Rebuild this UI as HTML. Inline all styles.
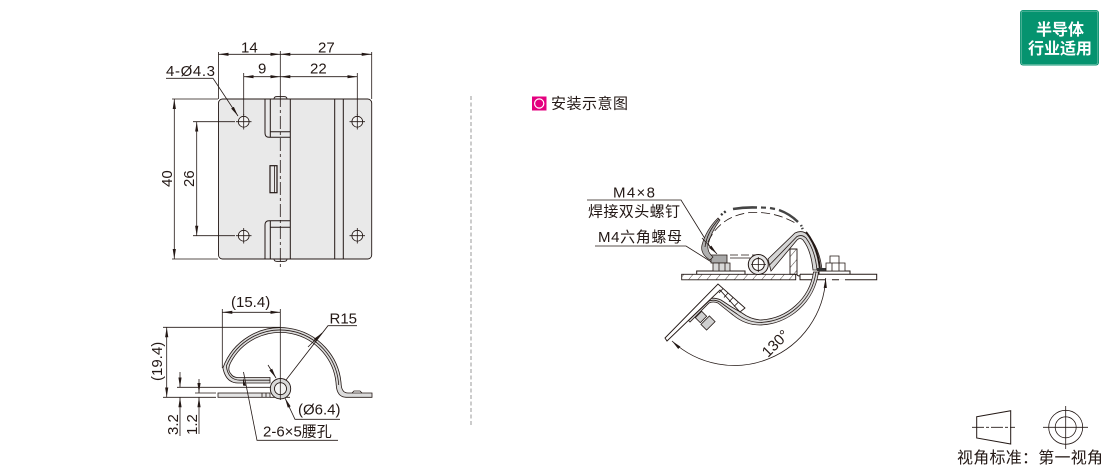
<!DOCTYPE html>
<html><head><meta charset="utf-8"><style>
html,body{margin:0;padding:0;background:#fff;width:1110px;height:473px;overflow:hidden}
svg{display:block}
text{font-family:"Liberation Sans","Noto Sans CJK SC",sans-serif;fill:#231815;font-size:15px}
.l{stroke:#231815;stroke-width:.8;fill:none}
.t{stroke:#231815;stroke-width:1;fill:none}
</style></head><body>
<svg width="1110" height="473" viewBox="0 0 1110 473" xmlns="http://www.w3.org/2000/svg">
<defs>
<marker id="a" markerUnits="userSpaceOnUse" markerWidth="11" markerHeight="6" refX="10" refY="2.5" orient="auto-start-reverse"><path d="M0 .9L10 2.5L0 4.1z" fill="#231815"/></marker>
<pattern id="h" patternUnits="userSpaceOnUse" width="7" height="7" patternTransform="rotate(40)"><line x1="0" y1="0" x2="0" y2="7" stroke="#231815" stroke-width=".8"/></pattern>
</defs>

<!-- top view -->
<rect x="218.5" y="99" width="153.2" height="160" rx="4" fill="#e9e9e9" stroke="#231815" stroke-width=".9"/>
<path class="t" d="M265 99V133Q265 137.3 269 137.3H290.3M265 259V225Q265 220.7 269 220.7H290.3M270.3 99V137.3M270.3 220.7V259M290.3 99V259M334.7 99V259M343.3 99V259M270.3 131.7H290.3M270.3 227.3H290.3"/>
<path d="M274 99Q274 96.6 277 96.6H284Q287 96.6 287 99zM274 259Q274 261.4 277 261.4H284Q287 261.4 287 259z" fill="#e9e9e9" stroke="#231815" stroke-width=".9"/>
<rect x="270" y="165.7" width="7" height="27" fill="#e9e9e9" stroke="#231815" stroke-width="1.2"/>
<path class="l" d="M274.5 166V192.5"/>
<path class="l" d="M280.3 51V94"/>
<path class="l" stroke-dasharray="13 3 3 3" d="M280.3 94V268"/>
<g fill="#f4f4f4" stroke="#231815" stroke-width=".8">
<circle cx="243.7" cy="121.7" r="5.4"/><circle cx="357.3" cy="121.7" r="5.4"/><circle cx="243.7" cy="235.7" r="5.4"/><circle cx="357.3" cy="235.7" r="5.4"/>
</g>
<path class="l" d="M236 121.7H251.5M243.7 114V129.5M349.5 121.7H365M357.3 114V129.5M236 235.7H251.5M243.7 228V243.5M349.5 235.7H365M357.3 228V243.5"/>
<!-- top dims -->
<path class="l" d="M218.5 52V99M371.7 52V99M243.7 73V115M357.3 73V115M172 99H218M172 259H218M193 121.7H235M193 235.7H235"/>
<path class="l" marker-start="url(#a)" marker-end="url(#a)" d="M218.5 54.3H280.3"/>
<path class="l" marker-start="url(#a)" marker-end="url(#a)" d="M280.3 54.3H371.7"/>
<path class="l" marker-start="url(#a)" marker-end="url(#a)" d="M243.7 76.7H280.3"/>
<path class="l" marker-start="url(#a)" marker-end="url(#a)" d="M280.3 76.7H357.3"/>
<path class="l" marker-start="url(#a)" marker-end="url(#a)" d="M174.3 99V259"/>
<path class="l" marker-start="url(#a)" marker-end="url(#a)" d="M196.7 121.7V235.7"/>
<path class="l" marker-end="url(#a)" d="M166 78.3H213L238 116"/>
<text x="241" y="52.5">14</text><text x="318" y="52.5">27</text><text x="258" y="73.5">9</text><text x="310" y="73.5">22</text>
<text x="166" y="76" textLength="49">4-Ø4.3</text>
<text transform="translate(172,187) rotate(-90)">40</text>
<text transform="translate(194,187) rotate(-90)">26</text>

<!-- bottom view -->
<path d="M222.9 368A61 61 0 0 1 341.2 385Q342 393 348 393H372V397.3H346Q337 397 336.2 385A56 56 0 0 0 230.4 363Q227 370 231 374Q233 377.5 238 377.5H270V383H238Q226 383 222.9 368z" fill="#dcdcdc" stroke="#231815" stroke-width=".8"/>
<path class="l" d="M226.3 366A58.5 58.5 0 0 1 338.7 385M226.3 366Q228 380 240 380.2H270"/>
<path class="l" d="M352 393L354 391H360L362 393"/>
<rect x="218" y="393" width="52" height="4.3" fill="#e4e4e4" stroke="#231815" stroke-width=".8"/>
<path class="l" d="M262 393V397.3M266 393V397.3M270 397.3H290"/>
<circle cx="280.5" cy="388.7" r="10.2" fill="#d9d9d9" stroke="#231815" stroke-width=".9"/>
<circle cx="280.5" cy="388.7" r="6" fill="#f4f4f4" stroke="#231815" stroke-width=".9"/>
<path class="l" d="M280.3 309V400"/>
<path class="l" d="M222.3 309V368M163 327.3H280M163 397.3H216M177 387.3H270M195 393H216"/>
<path class="l" marker-start="url(#a)" marker-end="url(#a)" d="M222.3 312.3H280.3"/>
<path class="l" marker-start="url(#a)" marker-end="url(#a)" d="M166.7 327.3V397.3"/>
<path class="l" marker-end="url(#a)" d="M180 372V387.3"/><path class="l" marker-start="url(#a)" d="M180 397.3V436"/>
<path class="l" marker-end="url(#a)" d="M199 379V393"/><path class="l" marker-start="url(#a)" d="M199 397.3V434"/>
<path class="l" d="M357 325.7H328L286 380"/>
<path class="l" marker-end="url(#a)" d="M308 347L322 333"/>
<path class="l" marker-end="url(#a)" d="M268 365L276 378"/>
<path class="l" marker-end="url(#a)" d="M340 419.3H295L285 398"/>
<path class="l" d="M338 440.3H257L243.5 372"/>
<path d="M243 378l3 8-3-.5z" fill="#231815"/>
<text x="231" y="307">(15.4)</text><text x="329.5" y="323.5">R15</text><text x="298" y="414.5">(Ø6.4)</text>
<text x="263" y="436.5">2-6×5腰孔</text>
<text transform="translate(162,381) rotate(-90)">(19.4)</text>
<text transform="translate(178,435) rotate(-90)">3.2</text>
<text transform="translate(197,435) rotate(-90)">1.2</text>

<!-- divider -->
<path d="M471 96V425" stroke="#9a9a9a" stroke-width="1" stroke-dasharray="4 2.5" fill="none"/>

<!-- header -->
<rect x="532" y="96.5" width="14.5" height="14" fill="#e4007f"/>
<circle cx="539.2" cy="103.5" r="4.6" fill="none" stroke="#fff" stroke-width="1.2"/>
<text x="551" y="108.5" textLength="77">安装示意图</text>

<!-- right diagram labels -->
<text x="613" y="197.5" textLength="42">M4×8</text>
<text x="588" y="216.5" textLength="92">焊接双头螺钉</text>
<text x="598" y="242" textLength="84">M4六角螺母</text>
<path class="l" d="M587 200H681L712 250"/>
<path class="l" d="M595 246H686L713 263"/>

<!-- plates -->
<rect x="681.7" y="274.3" width="114" height="5.5" fill="url(#h)" stroke="#231815" stroke-width=".9"/>
<path class="t" d="M800 274.3H876.7V279.8H800V274.3"/>
<path class="t" d="M696.7 274.3V271H745V274.3M819 274.3V271H850V274.3"/>
<!-- bracket -->
<rect x="790" y="249" width="7" height="25.3" fill="url(#h)" stroke="#231815" stroke-width=".9"/>
<path class="t" d="M797 274.3Q797 276 800 276"/>
<path class="l" d="M785 249H797"/>
<!-- upper arm -->
<path d="M768 259L795 233Q803 229 809 236Q820 250 822 270H813Q811 250 803 240Q800 237 797 240L771 271z" fill="#d6d6d6" stroke="#231815" stroke-width=".8"/>
<path d="M806 232Q818 247 820 270" fill="none" stroke="#231815" stroke-width="2"/>
<path class="l" d="M769.5 265L797 236.5Q802 234 806 238Q815 250 817 270"/>
<rect x="817" y="268" width="15" height="3" fill="#333"/>
<!-- pin -->
<path class="l" d="M730 258H750"/>
<path class="l" stroke-dasharray="8 3" d="M730 255H760"/>
<circle cx="758.3" cy="264.5" r="10" fill="#e6e6e6" stroke="#231815" stroke-width="1"/>
<circle cx="758.3" cy="264.5" r="6" fill="#fff" stroke="#231815" stroke-width="1"/>
<path class="l" d="M751 264.5H766M758.3 257V272"/>
<!-- lower arm arc -->
<path d="M818.5 272A61 61 0 0 1 760 325Q745 325 733 315Q724 308 718 303Q713 301 709 303L690 322L687 319L708 299Q714 297 721 300Q731 307 742 313Q750 319 760 320A56 56 0 0 0 813.5 272z" fill="#dcdcdc" stroke="#231815" stroke-width=".8"/>
<path class="l" d="M816 272A58.5 58.5 0 0 1 760 322.5Q747 322 737 314Q728 308 720 302Q714 299 709 301L689 320"/>
<!-- lower plate -->
<path d="M665 338L718 284L745 308L740 312L720 290L667 341z" fill="#fff" stroke="#231815" stroke-width=".9"/>
<path class="l" d="M723 288.5L719 293M728 293L724 297.5M733 297.5L729 302M738 302.5L734 306.5"/>
<g fill="#d0d0d0" stroke="#231815" stroke-width=".8"><rect x="-6" y="-4" width="12" height="8" transform="translate(708,323) rotate(-45)"/><rect x="-4.5" y="-3.5" width="9" height="7" transform="translate(701,317) rotate(-45)"/></g>
<!-- left bolt cluster -->
<path d="M711 255H727V263H711z" fill="#a8a8a8" stroke="#231815" stroke-width=".8"/>
<path d="M713 263H730V271H713z" fill="#d8d8d8" stroke="#231815" stroke-width=".8"/>
<path class="l" d="M719 263V271M725 263V271"/>
<!-- right bolt -->
<path d="M830 256H839V263H830zM826 263H845V271H826z" fill="#fff" stroke="#231815" stroke-width=".8"/>
<path class="l" d="M832 263V271M839 263V271"/>
<path d="M826 279.8H852" stroke="#fff" stroke-width="1.4" stroke-dasharray="6 7" fill="none"/>
<!-- folded arm -->
<path d="M710 260Q700 254 702 245Q706 230 718 218L720 220Q711 232 708 245Q707 252 713 257z" fill="#b0b0b0" stroke="#231815" stroke-width=".7"/>
<path class="l" d="M705 247Q707 232 719 219"/>
<path d="M721 215L726 211" fill="none" stroke="#333" stroke-width="2.4" stroke-dasharray="2 2"/>
<path d="M733 209Q745 207 757 207.5" fill="none" stroke="#444" stroke-width="2.6"/>
<path d="M761 207.5L766 207.7M770 208L775 209" fill="none" stroke="#444" stroke-width="2.2"/>
<path d="M779 210Q790 214 798 222" fill="none" stroke="#444" stroke-width="2.4"/>
<path d="M801 225L803 230" fill="none" stroke="#444" stroke-width="2.4" stroke-dasharray="1.5 1.5"/>
<path class="l" stroke-dasharray="9 4" d="M708 242Q720 216 750 212.5Q775 211 797 224"/>
<path class="l" marker-end="url(#a)" d="M702 238L717 254"/>
<path class="l" marker-start="url(#a)" marker-end="url(#a)" d="M672 341A91.5 91.5 0 0 0 825.7 278"/>
<text transform="translate(768,358) rotate(-45)">130°</text>

<!-- badge -->
<rect x="1020" y="10" width="79" height="55.5" rx="3" fill="#05936f"/>
<rect x="1021.2" y="11.2" width="76.6" height="53.1" rx="2" fill="none" stroke="#7cc5b0" stroke-width=".7"/>
<text x="1060" y="35" text-anchor="middle" style="font-size:16px;font-weight:bold;fill:#fff">半导体</text>
<text x="1060" y="54" text-anchor="middle" style="font-size:16px;font-weight:bold;fill:#fff">行业适用</text>

<!-- projection symbol -->
<path class="t" d="M976.7 416.7L1010.7 410.7V444L976.7 438z"/>
<path class="l" stroke-dasharray="12 2 3 2" d="M972 427.3H1015"/>
<circle class="l" cx="1065.7" cy="427.3" r="17"/>
<circle class="l" cx="1065.7" cy="427.3" r="10.5"/>
<path class="l" d="M1043 427.3H1088M1065.7 406V449"/>
<text x="957" y="463" textLength="146" style="font-size:16px">视角标准：第一视角</text>
</svg>
</body></html>
